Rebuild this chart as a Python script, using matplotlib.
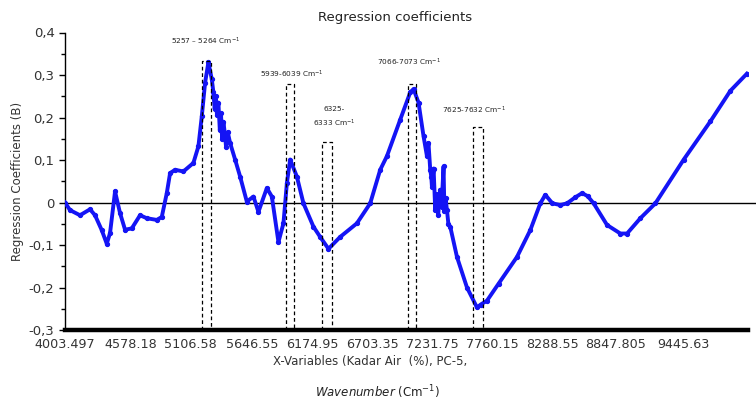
import matplotlib
matplotlib.use("Agg")
import matplotlib.pyplot as plt
from matplotlib.ticker import FixedLocator, MultipleLocator

# ---- data ----
wavenumber = [4003.5, 4047.5, 4135.5, 4223.5, 4267.5, 4326.5, 4370.5, 4399.5, 4443.5, 4487.5,
              4531.5, 4590.5, 4663.5, 4722.5, 4810.5, 4854.5, 4898.5, 4927.5, 4971.5, 5044.5,
              5132.5, 5176.5, 5206.5, 5235.5, 5264.5, 5294.5, 5308.5, 5320, 5330, 5340,
              5352.5, 5365, 5375, 5385, 5396.5, 5410, 5420, 5435, 5455.5, 5499.5,
              5543.5, 5602.5, 5660.5, 5704.5, 5778.5, 5822.5, 5880.5, 5924.5, 5954.5, 5983.5,
              6042.5, 6100.5, 6188.5, 6247.5, 6320.5, 6423.5, 6570.5, 6687.5, 6775.5, 6834.5,
              6951.5, 7039.5, 7068.5, 7112.5, 7156.5, 7186.5, 7200, 7215.5, 7225, 7230.5,
              7245, 7259.5, 7270, 7285, 7303.5, 7315, 7332.5, 7340, 7350, 7362.5,
              7375, 7391.5, 7450.5, 7538.5, 7626.5, 7660, 7714.5, 7816.5, 7978.5, 8095.5,
              8183.5, 8227.5, 8290, 8359.5, 8418.5, 8490, 8550.5, 8600, 8652.5, 8770.5,
              8887.5, 8946.5, 9063.5, 9195.5, 9444.5, 9679.5, 9855.5, 10000]
coef = [0.000, -0.018, -0.030, -0.016, -0.030, -0.065, -0.097, -0.072, 0.026, -0.025,
        -0.064, -0.061, -0.030, -0.037, -0.041, -0.034, 0.022, 0.069, 0.077, 0.073,
        0.093, 0.132, 0.203, 0.282, 0.330, 0.290, 0.259, 0.220, 0.250, 0.205,
        0.235, 0.170, 0.210, 0.150, 0.190, 0.160, 0.130, 0.165, 0.140, 0.101,
        0.061, 0.002, 0.014, -0.022, 0.034, 0.014, -0.093, -0.049, 0.045, 0.101,
        0.061, -0.002, -0.057, -0.081, -0.109, -0.081, -0.049, -0.002, 0.077, 0.109,
        0.195, 0.259, 0.267, 0.235, 0.156, 0.109, 0.140, 0.077, 0.060, 0.037,
        0.080, -0.018, 0.020, -0.030, 0.030, -0.010, 0.085, -0.020, 0.010, -0.018,
        -0.050, -0.057, -0.128, -0.200, -0.247, -0.240, -0.231, -0.191, -0.128, -0.065,
        -0.002, 0.018, -0.002, -0.006, -0.002, 0.012, 0.022, 0.015, -0.002, -0.053,
        -0.073, -0.073, -0.037, -0.002, 0.101, 0.191, 0.263, 0.303]

xtick_values = [4003.497, 4578.18, 5106.58, 5646.55, 6174.95, 6703.35, 7231.75,
                7760.15, 8288.55, 8847.805, 9445.63]
xtick_labels = ["4003.497", "4578.18", "5106.58", "5646.55", "6174.95", "6703.35",
                "7231.75", "7760.15", "8288.55", "8847.805", "9445.63"]
ytick_values = [-0.3, -0.2, -0.1, 0.0, 0.1, 0.2, 0.3, 0.4]
ytick_labels = ["-0,3", "-0,2", "-0,1", "0", "0,1", "0,2", "0,3", "0,4"]

# highlighted wavenumber windows (dashed boxes)
box_left = [5209, 5948, 6265, 7022, 7594]
box_right = [5288, 6019, 6353, 7092, 7682]
box_top = [0.333, 0.278, 0.143, 0.278, 0.177]
box_labels = ["5257 \u2013 5264 Cm$^{-1}$", "5939-6039 Cm$^{-1}$", "6325-\n6333 Cm$^{-1}$",
              "7066-7073 Cm$^{-1}$", "7625-7632 Cm$^{-1}$"]
# label anchor positions (layout)
label_x = [5236, 6000, 6370, 7030, 7600]
label_y = [0.380, 0.302, 0.200, 0.330, 0.217]

# ---- figure ----
fig = plt.figure(figsize=(7.56, 4.0), dpi=100)
ax = fig.add_axes([65 / 756, 1 - 330 / 400, (748 - 65) / 756, (330 - 32.5) / 400])

ax.set_xlim(4003.4, 10010)
ax.set_ylim(-0.3, 0.4)

blue = "#1414f5"
ax.plot(wavenumber, coef, color=blue, lw=2.8, marker="o", ms=2.8, mec=blue, mfc=blue,
        solid_joinstyle="round", zorder=3)

# zero line
ax.plot([0, 1.012], [0, 0], color="black", lw=1.0, transform=ax.get_yaxis_transform(),
        clip_on=False, zorder=2)

# dashed boxes
for xl, xr, top in zip(box_left, box_right, box_top):
    ax.plot([xl, xl, xr, xr], [-0.3, top, top, -0.3], color="black", lw=0.9,
            dashes=(3, 2.2), zorder=4)
for lx, ly, txt in zip(label_x, label_y, box_labels):
    ax.text(lx, ly, txt, ha="center", va="center", fontsize=5.3, color="#222222",
            linespacing=1.6)

# axes styling
for s in ["top", "right"]:
    ax.spines[s].set_visible(False)
ax.spines["left"].set_linewidth(1.0)
ax.spines["bottom"].set_linewidth(3.2)

ax.xaxis.set_major_locator(FixedLocator(xtick_values))
ax.set_xticklabels(xtick_labels)
ax.tick_params(axis="x", length=0, pad=6, labelsize=9.2, colors="#333333")
ax.yaxis.set_major_locator(FixedLocator(ytick_values))
ax.set_yticklabels(ytick_labels)
ax.yaxis.set_minor_locator(MultipleLocator(0.05))
ax.tick_params(axis="y", which="major", direction="out", length=4, width=1,
               labelsize=9.5, colors="black", labelcolor="#333333")
ax.tick_params(axis="y", which="minor", direction="out", length=3, width=1)

fig.text(395 / 756, 1 - 17 / 400, "Regression coefficients", ha="center", va="center",
         fontsize=9.5, color="#222222")
fig.text(18 / 756, 1 - 181 / 400, "Regression Coefficients (B)", rotation=90,
         ha="center", va="center", fontsize=8.5, color="#333333")
fig.text(370 / 756, 1 - 362 / 400, "X-Variables (Kadar Air  (%), PC-5,", ha="center",
         va="center", fontsize=8.5, color="#333333")
fig.text(378 / 756, 1 - 392 / 400, r"$\it{Wavenumber}$ (Cm$^{-1}$)", ha="center",
         va="center", fontsize=8.5, color="#222222")

fig.savefig("out.png", dpi=100)
